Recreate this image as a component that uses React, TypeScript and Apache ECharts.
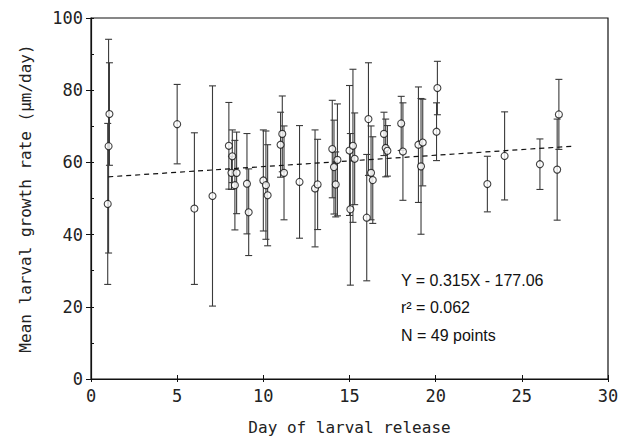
import React, { useEffect, useRef } from "react";
import * as echarts from "echarts";

const days = [0.97, 1.02, 1.07, 5.0, 6.0, 7.05, 8.0, 8.15, 8.2, 8.35, 8.45, 9.05, 9.15, 10.0, 10.15, 10.25, 11.0, 11.1, 11.2, 12.1, 13.0, 13.15, 14.0, 14.1, 14.2, 14.3, 15.0, 15.05, 15.2, 15.3, 16.0, 16.1, 16.25, 16.35, 17.0, 17.1, 17.2, 18.0, 18.1, 19.0, 19.15, 19.25, 20.05, 20.1, 23.0, 24.0, 26.05, 27.05, 27.15];
const means = [48.5, 64.5, 73.4, 70.6, 47.2, 50.7, 64.6, 57.1, 61.7, 53.7, 57.1, 54.1, 46.2, 55.0, 53.7, 50.9, 64.9, 67.9, 57.1, 54.6, 52.8, 53.9, 63.7, 58.7, 53.9, 60.7, 63.3, 47.0, 64.6, 61.0, 44.7, 72.0, 57.1, 55.1, 67.9, 64.0, 63.2, 70.8, 63.0, 64.9, 58.9, 65.5, 68.5, 80.6, 54.0, 61.8, 59.5, 58.0, 73.3];
const sds = [22.3, 29.6, 14.2, 11, 21, 30.5, 12, 4.6, 7.3, 12.4, 11.3, 13.9, 12, 14, 15, 14, 9, 10.5, 13, 15.6, 16.2, 12.5, 13.5, 13, 9, 15.5, 18, 21, 21.2, 12.7, 17.5, 15.6, 13, 12, 6, 8, 7, 7.5, 13.5, 16, 18.8, 12, 8, 7.4, 7.7, 12.2, 7, 14, 9.7];

const regX = [1, 28];
const regY = [56.0, 64.5];

const xTicks = [0, 5, 10, 15, 20, 25, 30];
const yTicks = [0, 20, 40, 60, 80, 100];

const annotations = ["Y = 0.315X - 177.06", "r² = 0.062", "N = 49 points"];

export default function App() {
  const ref = useRef<HTMLDivElement>(null);
  useEffect(() => {
    if (!ref.current) return;
    const chart = echarts.init(ref.current, null, { renderer: "svg" });
    const barData = days.map((d, i) => [d, means[i] - sds[i], means[i] + sds[i]]);
    const pts = days.map((d, i) => [d, means[i]]);
    const tickFont = { fontFamily: "DejaVu Sans Mono", fontSize: 17, color: "#222" };
    const titleFont = { fontFamily: "DejaVu Sans Mono", fontSize: 16, color: "#222" };
    const xMin = xTicks[0], xMax = xTicks[xTicks.length - 1];
    const yMin = yTicks[0], yMax = yTicks[yTicks.length - 1];
    chart.setOption({
      animation: false,
      backgroundColor: "#fff",
      grid: {
        left: 91, right: 25, top: 18, bottom: 58,
        show: true, borderColor: "#111", borderWidth: 1.2, backgroundColor: "transparent",
      },
      xAxis: [
        {
          type: "value", min: xMin, max: xMax, interval: 5,
          name: "Day of larval release", nameLocation: "middle", nameGap: 40,
          nameTextStyle: titleFont,
          axisLine: { show: true, lineStyle: { color: "#111", width: 1.2 } },
          axisTick: { show: true, inside: false, length: 3, lineStyle: { color: "#111" } },
          axisLabel: { ...tickFont, margin: 8 },
          splitLine: { show: false },
        },
        {
          type: "value", min: xMin, max: xMax, interval: 5, position: "bottom",
          axisLine: { show: false },
          axisTick: { show: true, inside: true, length: 4, lineStyle: { color: "#111" } },
          axisLabel: { show: false },
          splitLine: { show: false },
        },
      ],
      yAxis: [
        {
          type: "value", min: yMin, max: yMax, interval: 20,
          name: "Mean larval growth rate (μm/day)", nameLocation: "middle", nameGap: 58,
          nameTextStyle: titleFont,
          axisLine: { show: true, lineStyle: { color: "#111", width: 1.2 } },
          axisTick: { show: true, inside: false, length: 5, lineStyle: { color: "#111" } },
          axisLabel: { ...tickFont, margin: 8 },
          splitLine: { show: false },
        },
        {
          type: "value", min: yMin, max: yMax, interval: 10, position: "left",
          axisLine: { show: false },
          axisTick: { show: true, inside: true, length: 3, lineStyle: { color: "#111" } },
          axisLabel: { show: false },
          splitLine: { show: false },
        },
      ],
      series: [
        {
          type: "custom",
          data: barData,
          z: 2,
          renderItem: (params: any, api: any) => {
            const x = api.value(0);
            const lo = api.coord([x, api.value(1)]);
            const hi = api.coord([x, api.value(2)]);
            const w = 3.5;
            const style = { stroke: "#3a3a3a", lineWidth: 1.1 };
            return {
              type: "group",
              children: [
                { type: "line", shape: { x1: lo[0], y1: lo[1], x2: hi[0], y2: hi[1] }, style },
                { type: "line", shape: { x1: lo[0] - w, y1: lo[1], x2: lo[0] + w, y2: lo[1] }, style },
                { type: "line", shape: { x1: hi[0] - w, y1: hi[1], x2: hi[0] + w, y2: hi[1] }, style },
              ],
            };
          },
        },
        {
          type: "line",
          data: regX.map((x, i) => [x, regY[i]]),
          showSymbol: false,
          symbol: "none",
          z: 3,
          lineStyle: { color: "#111", width: 1.2, type: [5, 4] },
        },
        {
          type: "scatter",
          data: pts,
          symbol: "circle",
          symbolSize: 7,
          z: 4,
          itemStyle: { color: "#fff", borderColor: "#111", borderWidth: 1.1 },
        },
      ],
      graphic: annotations.map((t, i) => ({
        type: "text",
        left: 401,
        top: 272 + i * 27.5,
        style: { text: t, fontFamily: "Liberation Sans", fontSize: 16, fill: "#111" },
      })),
    });
    return () => chart.dispose();
  }, []);
  return <div ref={ref} style={{ width: 633, height: 440, position: "absolute", left: 0, top: 0 }} />;
}
